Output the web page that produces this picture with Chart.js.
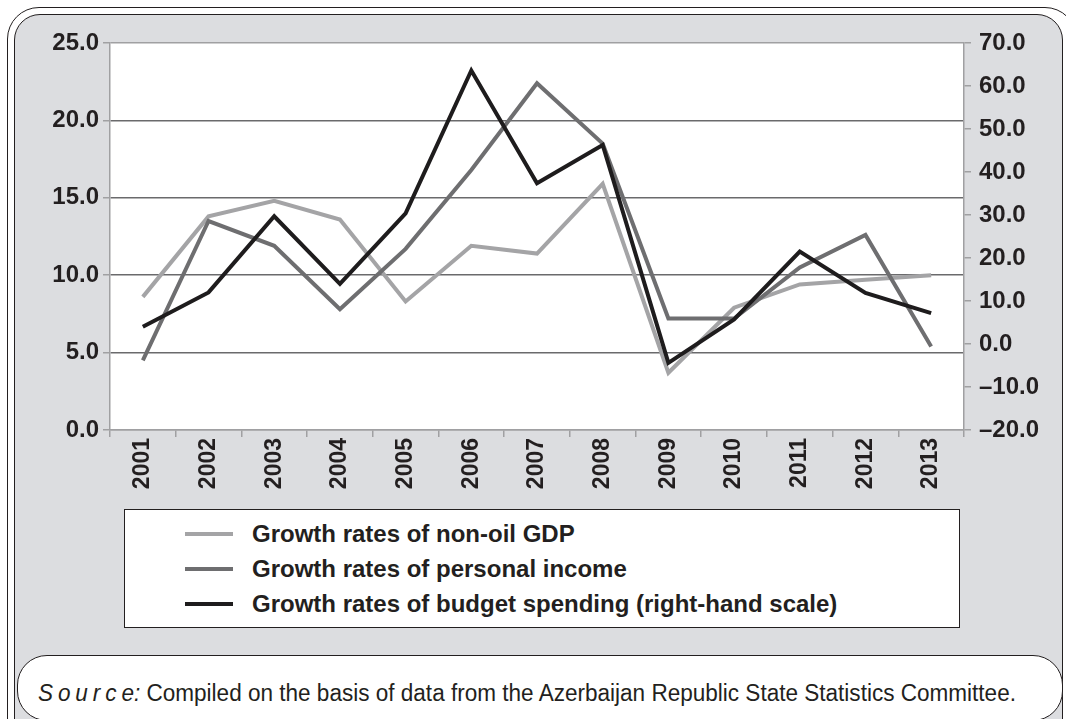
<!DOCTYPE html>
<html>
<head>
<meta charset="utf-8">
<script src="https://cdn.jsdelivr.net/npm/chart.js@4"></script>
<style>
  body { margin: 0; width: 1066px; height: 719px; overflow: hidden; position: relative; background: #fff; font-family: "Liberation Sans", Arial, sans-serif; color: #231f20; }
  #outer { position: absolute; left: 7px; top: 7px; width: 1070px; height: 780px; border: 1.5px solid #231f20; border-radius: 32px; box-sizing: border-box; }
  #inner { position: absolute; left: 14px; top: 14px; width: 1049px; height: 780px; border: 1.5px solid #231f20; border-radius: 26px; background: #dcdde0; box-sizing: border-box; }
  #myChart { position: absolute; left: 0; top: 0; }
  #legend { position: absolute; left: 124px; top: 509px; width: 836px; height: 119px; background: #fff; border: 1.5px solid #231f20; box-sizing: border-box; padding-top: 6px; }
  .row { height: 35px; display: flex; align-items: center; }
  .swatch { display: inline-block; width: 48px; height: 4px; margin-left: 60px; }
  .label { display: inline-block; margin-left: 19px; font-weight: bold; font-size: 24px; white-space: nowrap; }
  #source { position: absolute; left: 17px; top: 655px; width: 1046px; height: 66px; background: #fff; border: 1.5px solid #231f20; border-radius: 30px; box-sizing: border-box; }
  #source p { margin: 0; position: absolute; left: 20px; top: 24px; font-size: 23px; white-space: nowrap; transform: scaleX(0.98); transform-origin: left center; }
  #source i span { letter-spacing: 5px; }
</style>
</head>
<body>
<div id="outer"></div>
<div id="inner"></div>
<canvas id="myChart" width="1066" height="500"></canvas>
<div id="legend"></div>
<div id="source"><p><i><span>Sourc</span>e:</i> Compiled on the basis of data from the Azerbaijan Republic State Statistics Committee.</p></div>
<script>
// years on the x axis
var years = ["2001", "2002", "2003", "2004", "2005", "2006", "2007", "2008", "2009", "2010", "2011", "2012", "2013"];

// left-hand scale, %
var nonOilGdp = [8.6, 13.8, 14.8, 13.6, 8.3, 11.9, 11.4, 15.9, 3.7, 7.9, 9.4, 9.7, 10.0];
var personalIncome = [4.5, 13.5, 11.9, 7.8, 11.7, 16.8, 22.4, 18.5, 7.2, 7.2, 10.5, 12.6, 5.4];

// right-hand scale, %
var budgetSpending = [4.0, 12.0, 29.7, 14.0, 30.4, 63.6, 37.4, 46.3, -4.4, 5.7, 21.5, 11.9, 7.2];

var seriesNames = [
  "Growth rates of non-oil GDP",
  "Growth rates of personal income",
  "Growth rates of budget spending (right-hand scale)"
];
var seriesColors = ["#a4a4a6", "#6e6e70", "#1e1c1d"];

var tickFont = { family: "'Liberation Sans', Arial, sans-serif", size: 24, weight: "bold" };
var yearFont = { family: "'Liberation Sans', Arial, sans-serif", size: 23, weight: "bold" };
var axisGray = "#a0a0a2";

var plotBackground = {
  id: "plotBackground",
  beforeDraw: (chart) => {
    var a = chart.chartArea;
    chart.ctx.save();
    chart.ctx.fillStyle = "#ffffff";
    chart.ctx.fillRect(a.left, a.top, a.right - a.left, a.bottom - a.top);
    chart.ctx.restore();
  }
};

var renderChart = () => {
  var ctx = document.getElementById("myChart").getContext("2d");
  var datasets = [
    { label: seriesNames[0], data: nonOilGdp, yAxisID: "y", borderColor: seriesColors[0], order: 2 },
    { label: seriesNames[1], data: personalIncome, yAxisID: "y", borderColor: seriesColors[1], order: 1 },
    { label: seriesNames[2], data: budgetSpending, yAxisID: "y1", borderColor: seriesColors[2], order: 0 }
  ];
  datasets.forEach((d) => {
    d.borderWidth = 4;
    d.pointRadius = 0;
    d.tension = 0;
    d.fill = false;
  });

  var myChart = new Chart(ctx, {
    type: "line",
    data: { labels: years, datasets: datasets },
    plugins: [plotBackground],
    options: {
      responsive: false,
      animation: false,
      devicePixelRatio: 1,
      layout: { padding: { top: 43, left: 0, right: 0, bottom: 0 } },
      plugins: { legend: { display: false }, tooltip: { enabled: false } },
      scales: {
        x: {
          offset: true,
          grid: { offset: true, drawOnChartArea: false, drawTicks: true, tickLength: 7, tickColor: axisGray, lineWidth: 1.5 },
          border: { color: axisGray, width: 1.5 },
          ticks: { font: yearFont, color: "#231f20", minRotation: 90, maxRotation: 90, padding: 1, autoSkip: false },
          afterFit: (scale) => { scale.height = 70; }
        },
        y: {
          position: "left",
          min: 0,
          max: 25,
          ticks: { stepSize: 5, font: tickFont, color: "#231f20", padding: 4, callback: (v) => v.toFixed(1) },
          grid: {
            color: (c) => (c.tick.value === 0 || c.tick.value === 25 ? axisGray : "#6a6a6c"),
            lineWidth: 1.5,
            tickLength: 7,
            tickColor: axisGray
          },
          border: { color: axisGray, width: 1.5 },
          afterFit: (scale) => { scale.width = 110; }
        },
        y1: {
          position: "right",
          min: -20,
          max: 70,
          ticks: {
            stepSize: 10,
            font: tickFont,
            color: "#231f20",
            padding: 8,
            callback: (v) => (v < 0 ? "\u2013" + Math.abs(v).toFixed(1) : v.toFixed(1))
          },
          grid: { drawOnChartArea: false, tickLength: 7, tickColor: axisGray, lineWidth: 1.5 },
          border: { color: axisGray, width: 1.5 },
          afterFit: (scale) => { scale.width = 102; }
        }
      }
    }
  });

  // legend built from the same series
  var legend = document.getElementById("legend");
  seriesNames.forEach((name, i) => {
    var row = document.createElement("div");
    row.className = "row";
    var sw = document.createElement("span");
    sw.className = "swatch";
    sw.style.background = seriesColors[i];
    var lb = document.createElement("span");
    lb.className = "label";
    lb.textContent = name;
    row.appendChild(sw);
    row.appendChild(lb);
    legend.appendChild(row);
  });

  return myChart;
};

renderChart();
</script>
</body>
</html>
